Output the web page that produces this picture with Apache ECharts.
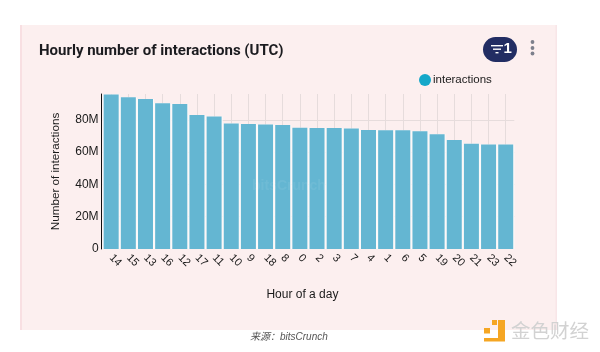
<!DOCTYPE html>
<html>
<head>
<meta charset="utf-8">
<style>html,body{margin:0;padding:0;background:#fff}#chart{width:600px;height:352px}</style>
<script src="https://cdn.jsdelivr.net/npm/echarts@6/dist/echarts.min.js"></script>
</head>
<body>
<div id="chart"></div>
<script>
// hours sorted by number of interactions
var hours = ['14','15','13','16','12','17','11','10','9','18','8','0','2','3','7','4','1','6','5','19','20','21','23','22'];
var interactions = [95.7,94,92.9,90.2,89.8,83,82,77.8,77.4,77.1,76.8,75.1,74.9,74.9,74.7,73.7,73.5,73.5,72.9,71,67.5,65.2,64.8,64.8];
var yTicks = [0,20,40,60,80];

var sans = 'Liberation Sans';
var myChart = echarts.init(document.getElementById('chart'), null, {renderer:'canvas'});
var option = {
    animation: false,
    backgroundColor: '#ffffff',
    title: {
        text: 'Hourly number of interactions (UTC)',
        left: 39, top: 44, padding: 0,
        textStyle: {fontFamily:'Roboto', fontWeight:'bold', fontSize:15, color:'#1b1b1f'}
    },
    legend: {
        data: [{name:'interactions', itemStyle:{color:'#15a8c9'}}],
        left: 414, top: 69,
        icon: 'circle', itemWidth: 12, itemHeight: 12, itemGap: 3,
        textStyle: {fontFamily:sans, fontSize:11.5, color:'#1a1a1a', padding:[0,0,0,-3]}
    },
    grid: {left:102.6, right:85.7, top:94, bottom:103},
    xAxis: [{
        type: 'category',
        data: hours,
        name: 'Hour of a day',
        nameLocation: 'middle',
        nameGap: 40,
        nameTextStyle: {fontFamily:sans, fontSize:12, color:'#1a1a1a', padding:[0,12,0,0]},
        axisLine: {show:false},
        axisTick: {show:false},
        axisLabel: {rotate:-45, interval:0, margin:7, fontFamily:sans, fontSize:11, color:'#1a1a1a'},
        splitLine: {show:true, interval:0, alignWithLabel:true, lineStyle:{color:'#e6dcdc', width:1}}
    }, {
        // second axis only so the white gap bars can sit centred behind the blue ones
        type: 'category',
        data: hours,
        show: false
    }],
    yAxis: {
        type: 'value',
        min: 0, max: 96, interval: 20,
        offset: 1,
        name: 'Number of interactions',
        nameLocation: 'middle',
        nameGap: 40,
        nameTextStyle: {fontFamily:sans, fontSize:11.7, color:'#1a1a1a'},
        axisLine: {show:true, lineStyle:{color:'#111', width:1}},
        axisTick: {show:false},
        axisLabel: {
            showMaxLabel: false, margin: 3, padding: [4,0,0,0],
            fontFamily:sans, fontSize:12, color:'#1a1a1a',
            formatter: function(v){ return yTicks.indexOf(v) < 0 ? '' : (v === 0 ? '0' : v + 'M'); }
        },
        splitLine: {show:true, showMinLine:false, showMaxLine:false, lineStyle:{color:'#e6dcdc', width:1}}
    },
    series: [{
        name: 'gap',
        type: 'bar',
        xAxisIndex: 1,
        data: interactions,
        barWidth: '100%',
        itemStyle: {color:'#fdfafa'},
        z: 1
    }, {
        name: 'interactions',
        type: 'bar',
        data: interactions,
        barWidth: 15,
        itemStyle: {color:'#64b6d2'},
        z: 2
    }],
    graphic: [
        {type:'rect', z:-10, silent:true, shape:{x:20,y:25,width:537,height:305}, style:{fill:'#fcefef'}},
        {type:'rect', z:-9, silent:true, shape:{x:20,y:25,width:2,height:305}, style:{fill:'#f8dfe2'}},
        {type:'rect', z:-9, silent:true, shape:{x:555.5,y:25,width:1.5,height:305}, style:{fill:'#f8e6e8'}},
        // filter button
        {type:'rect', z:10, shape:{x:483,y:37,width:34,height:25,r:12.5}, style:{fill:'#222d63'}},
        {type:'rect', z:11, shape:{x:491,y:45,width:12,height:1.4}, style:{fill:'#fff'}},
        {type:'rect', z:11, shape:{x:493,y:48.5,width:8,height:1.4}, style:{fill:'#fff'}},
        {type:'rect', z:11, shape:{x:495.5,y:52,width:3,height:1.4}, style:{fill:'#fff'}},
        {type:'text', z:11, style:{x:503.5,y:41.5,text:'1',fill:'#fff',font:'bold 15px Liberation Sans'}},
        // menu dots
        {type:'circle', z:10, shape:{cx:532.5,cy:42,r:1.9}, style:{fill:'#7d808c'}},
        {type:'circle', z:10, shape:{cx:532.5,cy:48,r:1.9}, style:{fill:'#7d808c'}},
        {type:'circle', z:10, shape:{cx:532.5,cy:53.5,r:1.9}, style:{fill:'#7d808c'}},
        // faint watermark over the bars
        {type:'text', z:10, silent:true, style:{x:252,y:179,text:'bitsCrunch',fill:'rgba(255,255,255,0.07)',font:'bold 14px Liberation Sans'}},
        // source line
        {type:'text', z:10, style:{x:250,y:332,text:'来源：bitsCrunch',fill:'#555',font:'italic 10px "Liberation Sans", "Noto Sans CJK SC", sans-serif'}},
        // site mark, bottom right
        {type:'rect', z:10, shape:{x:484,y:338,width:21,height:3.5}, style:{fill:'#f5a623'}},
        {type:'rect', z:10, shape:{x:498,y:320,width:7,height:21}, style:{fill:'#f5a623'}},
        {type:'rect', z:10, shape:{x:484,y:328,width:6,height:5.5}, style:{fill:'#f5a623'}},
        {type:'rect', z:10, shape:{x:492,y:320,width:5,height:5}, style:{fill:'#f5a623'}},
        {type:'text', z:10, style:{x:511,y:321,text:'金色财经',fill:'#d2d2d2',font:'19.5px "Noto Sans CJK SC", sans-serif'}}
    ]
};
myChart.setOption(option);
</script>
</body>
</html>
